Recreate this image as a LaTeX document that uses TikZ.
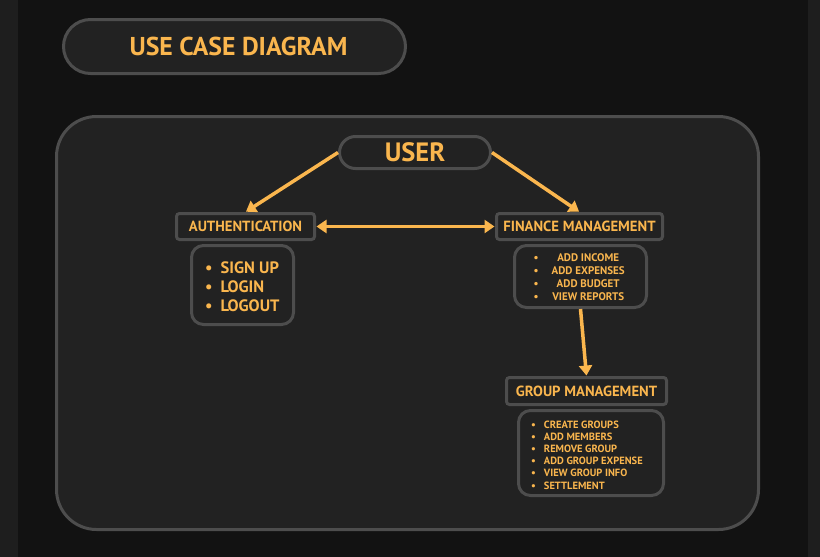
\documentclass[tikz,border=0pt]{standalone}
\usepackage{fontspec}
\setmainfont{PT Sans}
\usetikzlibrary{arrows.meta}
\definecolor{bgdark}{HTML}{121212}
\definecolor{strip}{HTML}{1E1E1E}
\definecolor{panel}{HTML}{222222}
\definecolor{edge}{HTML}{4D4D4D}
\definecolor{gold}{HTML}{FAB64E}
\begin{document}
\begin{tikzpicture}[x=1pt,y=-1pt,
  box/.style={draw=edge, line width=3pt, fill=panel, inner sep=0pt, text=gold, font=\bfseries},
  pill/.style={box, rounded corners=#1},
  arr/.style={draw=gold, line width=3.5pt, -{Triangle[length=10pt,width=13pt]}, shorten >=0.5pt},
  darr/.style={draw=gold, line width=3.5pt, {Triangle[length=10pt,width=13pt]}-{Triangle[length=10pt,width=13pt]}, shorten >=0.5pt, shorten <=0.5pt},
  itemtext/.style={text=gold, font=\bfseries, inner sep=0pt},
  headfont/.style={font=\bfseries\fontsize{14.7}{17}\selectfont}
]
\fill[strip] (0,0) rectangle (820,557);
\fill[bgdark] (18,0) rectangle (808,557);
\useasboundingbox (0,0) rectangle (820,557);

% title
\node[pill=27pt, minimum width=342pt, minimum height=54pt, font=\bfseries\fontsize{25.8}{30}\selectfont] (title) at (234.5,46.5) {\hspace*{8pt}USE CASE DIAGRAM};

% panel
\node[pill=40pt, minimum width=702pt, minimum height=413pt] (panel) at (407.5,323) {};

% user
\node[pill=16pt, minimum width=151pt, minimum height=32pt, font=\bfseries\fontsize{26.5}{30}\selectfont] (user) at (415,152.5) {USER};

% headers
\node[pill=3pt, minimum width=138pt, minimum height=26pt, headfont] (auth) at (245.5,226.5) {AUTHENTICATION};
\node[pill=3pt, minimum width=166pt, minimum height=26pt, headfont] (fin) at (579.5,226.5) {FINANCE MANAGEMENT};
\node[pill=3pt, minimum width=160pt, minimum height=27pt, headfont] (grp) at (586.5,391) {GROUP MANAGEMENT};

% list boxes
\node[pill=12pt, minimum width=102pt, minimum height=79pt] (authlist) at (242.5,285) {};
\node[pill=12pt, minimum width=132pt, minimum height=62pt] (finlist) at (580.5,276.5) {};
\node[pill=12pt, minimum width=145pt, minimum height=85pt] (grplist) at (591,453) {};

% list texts
\node[itemtext, anchor=west, align=left, font=\bfseries\fontsize{16.5}{19}\selectfont] (authitems) at (205,286.5)
  {\textbullet\hspace{8pt}SIGN UP\\ \textbullet\hspace{8pt}LOGIN\\ \textbullet\hspace{8pt}LOGOUT};
\node[itemtext, anchor=west, font=\bfseries\fontsize{11}{13}\selectfont] (finitems) at (533.5,278)
  {\begin{tabular}{@{}c@{\hspace{13pt}}c@{}}
  \textbullet & ADD INCOME\\
  \textbullet & ADD EXPENSES\\
  \textbullet & ADD BUDGET\\
  \textbullet & VIEW REPORTS
  \end{tabular}};
\node[itemtext, anchor=west, align=left, font=\bfseries\fontsize{10.5}{12.2}\selectfont] (grpitems) at (531,455)
  {\textbullet\hspace{8pt}CREATE GROUPS\\
   \textbullet\hspace{8pt}ADD MEMBERS\\
   \textbullet\hspace{8pt}REMOVE GROUP\\
   \textbullet\hspace{8pt}ADD GROUP EXPENSE\\
   \textbullet\hspace{8pt}VIEW GROUP INFO\\
   \textbullet\hspace{8pt}SETTLEMENT};

% connectors
\draw[arr] (user.west) -- (auth.north);
\draw[arr] (user.east) -- (fin.north);
\draw[darr] (auth.east) -- (fin.west);
\draw[arr] (finlist.south) -- (grp.north);
\end{tikzpicture}
\end{document}
